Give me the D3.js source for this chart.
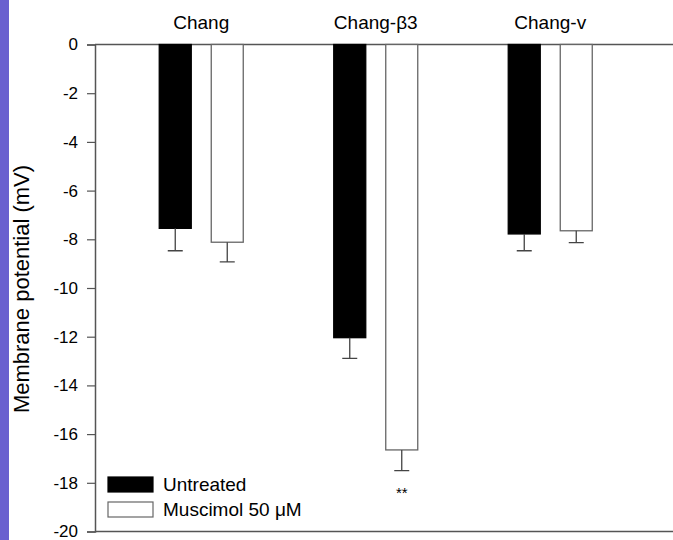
<!DOCTYPE html>
<html>
<head>
<meta charset="utf-8">
<style>
  body { margin: 0; background: #fff; }
  text { font-family: "Liberation Sans", Arial, sans-serif; fill: #000; }
</style>
</head>
<body>
<svg width="673" height="540"></svg>
<script src="https://cdn.jsdelivr.net/npm/d3@7"></script>
<script>

var categories = ["Chang", "Chang-\u03b23", "Chang-v"];
var seriesNames = ["Untreated", "Muscimol 50 \u03bcM"];
var untreated = [-7.55, -12.04, -7.78];
var untreatedErr = [0.92, 0.85, 0.69];
var muscimol = [-8.12, -16.65, -7.65];
var muscimolErr = [0.81, 0.85, 0.49];
var yTicks = [0, -2, -4, -6, -8, -10, -12, -14, -16, -18, -20];
var marks = [null, "**", null];

var svg = d3.select("svg");

// purple strip on the left edge
svg.append("rect")
    .attr("x", 0).attr("y", 0)
    .attr("width", 9).attr("height", 540)
    .attr("fill", "#6a60cf");

var y = d3.scaleLinear().domain([0, -20]).range([44.5, 531.5]);
var x0 = d3.scaleBand().domain(categories).range([114, 637.5]);
var x1 = d3.scaleBand().domain(seriesNames).range([-42, 42]).paddingInner(20 / 52);

var rows = categories.map(function(c, i) {
  return [
    { cat: c, key: seriesNames[0], v: untreated[i], e: untreatedErr[i], fill: "#000", stroke: "#000" },
    { cat: c, key: seriesNames[1], v: muscimol[i], e: muscimolErr[i], fill: "#fff", stroke: "#666" }
  ];
});

// frame lines (top at 0 and bottom at -20)
svg.append("line")
    .attr("x1", 95).attr("x2", 673)
    .attr("y1", y(0)).attr("y2", y(0))
    .attr("stroke", "#555").attr("stroke-width", 1.5);
svg.append("line")
    .attr("x1", 95).attr("x2", 673)
    .attr("y1", y(-20)).attr("y2", y(-20))
    .attr("stroke", "#555").attr("stroke-width", 1.5);

var yAxis = svg.append("g")
    .attr("transform", "translate(95,0)")
    .call(d3.axisLeft(y).tickValues(yTicks).tickSize(8).tickPadding(9).tickFormat(d3.format("d")));
yAxis.select(".domain").attr("stroke", "#555").attr("stroke-width", 1.5);
yAxis.selectAll(".tick line").attr("stroke", "#555").attr("stroke-width", 1.2);
yAxis.selectAll(".tick text")
    .style("font-family", "'Liberation Sans', Arial, sans-serif")
    .style("font-size", "17px")
    .attr("fill", "#000")
    .text(function(d) { return d === 0 ? "0" : "-" + Math.abs(d); });

var group = svg.selectAll(".grp")
    .data(rows)
  .enter().append("g")
    .attr("class", "grp")
    .attr("transform", function(d, i) { return "translate(" + (x0(categories[i]) + x0.bandwidth() / 2) + ",0)"; });

group.selectAll(".bar")
    .data(function(d) { return d; })
  .enter().append("rect")
    .attr("class", "bar")
    .attr("x", function(d) { return x1(d.key); })
    .attr("y", y(0))
    .attr("width", x1.bandwidth())
    .attr("height", function(d) { return y(d.v) - y(0); })
    .attr("fill", function(d) { return d.fill; })
    .attr("stroke", function(d) { return d.stroke; })
    .attr("stroke-width", 1.3);

group.selectAll(".err")
    .data(function(d) { return d; })
  .enter().append("path")
    .attr("class", "err")
    .attr("d", function(d) {
      var cx = x1(d.key) + x1.bandwidth() / 2;
      return "M" + cx + "," + y(d.v) + "V" + y(d.v - d.e) +
             "M" + (cx - 7.5) + "," + y(d.v - d.e) + "H" + (cx + 7.5);
    })
    .attr("fill", "none")
    .attr("stroke", "#444")
    .attr("stroke-width", 1.3);

// category labels
svg.selectAll(".cat")
    .data(categories)
  .enter().append("text")
    .attr("class", "cat")
    .attr("x", function(d) { return x0(d) + x0.bandwidth() / 2; })
    .attr("y", 29)
    .attr("text-anchor", "middle")
    .style("font-size", "19px")
    .text(function(d) { return d; });

// significance marks
svg.selectAll(".sig")
    .data(categories.filter(function(c, i) { return marks[i]; }))
  .enter().append("text")
    .attr("class", "sig")
    .attr("x", function(d) { return x0(d) + x0.bandwidth() / 2 + x1(seriesNames[1]) + x1.bandwidth() / 2; })
    .attr("y", function(d) {
      var i = categories.indexOf(d);
      return y(muscimol[i] - muscimolErr[i]) + 27;
    })
    .attr("text-anchor", "middle")
    .style("font-size", "15px")
    .text(function(d) { return marks[categories.indexOf(d)]; });

// y axis title
svg.append("text")
    .attr("transform", "translate(29,289) rotate(-90)")
    .attr("text-anchor", "middle")
    .style("font-size", "22px")
    .text("Membrane potential (mV)");

// legend
var legend = svg.selectAll(".leg")
    .data(rows[0])
  .enter().append("g")
    .attr("class", "leg")
    .attr("transform", function(d, i) { return "translate(108," + (477 + i * 25) + ")"; });
legend.append("rect")
    .attr("width", 45).attr("height", 15)
    .attr("fill", function(d) { return d.fill; })
    .attr("stroke", function(d) { return d.stroke; })
    .attr("stroke-width", 1.2);
legend.append("text")
    .attr("x", 55).attr("y", 14)
    .style("font-size", "19px")
    .text(function(d) { return d.key; });

</script>
</body>
</html>
